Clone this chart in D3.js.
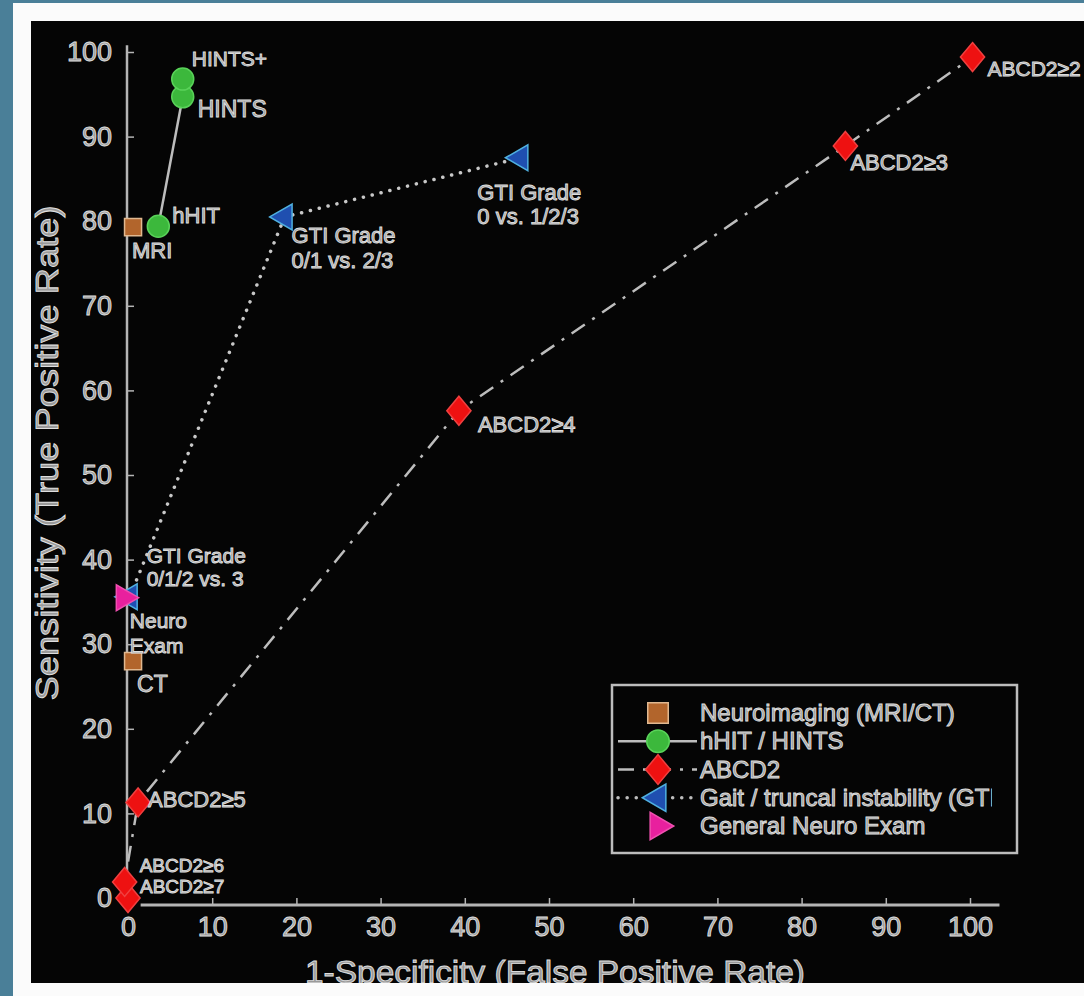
<!DOCTYPE html>
<html>
<head>
<meta charset="utf-8">
<script src="https://cdn.jsdelivr.net/npm/d3@7"></script>
<style>
  html, body { margin: 0; padding: 0; background: #4a7f98; }
  svg { display: block; }
  text { font-family: "Liberation Sans", Arial, sans-serif; }
</style>
</head>
<body>
<svg id="chart" width="1084" height="996"></svg>
<script>
// values (1-specificity %, sensitivity %)
const neuroimaging = [
  { label: "MRI", fpr: 0.6, tpr: 79.3 },
  { label: "CT", fpr: 0.6, tpr: 28.0 }
];
const hints = [
  { label: "hHIT", fpr: 3.6, tpr: 79.4 },
  { label: "HINTS", fpr: 6.5, tpr: 94.7 },
  { label: "HINTS+", fpr: 6.5, tpr: 96.8 }
];
const abcd2 = [
  { label: "ABCD2≥7", fpr: 0.0, tpr: 0.0 },
  { label: "ABCD2≥6", fpr: -0.4, tpr: 1.9 },
  { label: "ABCD2≥5", fpr: 1.2, tpr: 11.3 },
  { label: "ABCD2≥4", fpr: 39.3, tpr: 57.6 },
  { label: "ABCD2≥3", fpr: 85.2, tpr: 88.9 },
  { label: "ABCD2≥2", fpr: 100.3, tpr: 99.4 }
];
const gti = [
  { label: "GTI Grade|0/1/2 vs. 3", fpr: 0.2, tpr: 35.6 },
  { label: "GTI Grade|0/1 vs. 2/3", fpr: 18.6, tpr: 80.5 },
  { label: "GTI Grade|0 vs. 1/2/3", fpr: 46.6, tpr: 87.5 }
];
const neuroExam = [
  { label: "Neuro|Exam", fpr: -0.5, tpr: 35.5 }
];
const xTicks = [0, 10, 20, 30, 40, 50, 60, 70, 80, 90, 100];
const yTicks = [0, 10, 20, 30, 40, 50, 60, 70, 80, 90, 100];
const legendNames = [
  "Neuroimaging (MRI/CT)",
  "hHIT / HINTS",
  "ABCD2",
  "Gait / truncal instability (GTI)",
  "General Neuro Exam"
];

// label placement: offset from marker, line gap, font size
const labelPos = {
  "MRI": [-1, 31, 0, 22], "CT": [4, 31, 0, 23],
  "hHIT": [14, -3, 0, 22], "HINTS": [15, 20, 0, 23], "HINTS+": [9, -13, 0, 21],
  "ABCD2≥7": [12, -5, 0, 19], "ABCD2≥6": [15, -10, 0, 19], "ABCD2≥5": [10, 5, 0, 22],
  "ABCD2≥4": [19, 21, 0, 22], "ABCD2≥3": [5, 24, 0, 22], "ABCD2≥2": [15, 19, 0, 21],
  "GTI Grade|0/1/2 vs. 3": [17, -34, 23, 21], "GTI Grade|0/1 vs. 2/3": [7, 26, 25, 22],
  "GTI Grade|0 vs. 1/2/3": [-43, 42, 24, 22], "Neuro|Exam": [6, 30, 25, 21]
};

const svg = d3.select("#chart");
const W = 1084, H = 996;

// frame: blue edge, white mat, black plot card
svg.append("rect").attr("width", W).attr("height", H).attr("fill", "#4a7f98");
svg.append("rect").attr("x", 13).attr("y", 3).attr("width", W - 13).attr("height", H - 3).attr("fill", "#fbfbfb");
svg.append("clipPath").attr("id", "card")
  .append("rect").attr("x", 31).attr("y", 21).attr("width", W - 31).attr("height", 962);
svg.append("rect").attr("x", 31).attr("y", 21).attr("width", W - 31).attr("height", 962).attr("fill", "#050505");

const g = svg.append("g").attr("clip-path", "url(#card)");

const x = d3.scaleLinear().domain([0, 100]).range([128, 970]);
const y = d3.scaleLinear().domain([0, 100]).range([898, 52]);

const txt = (sel) => sel.attr("fill", "#9a9a9a").attr("stroke", "#dedede").attr("stroke-width", 0.9);

// axes
g.append("line").attr("x1", 127).attr("x2", 127).attr("y1", y(100.8)).attr("y2", y(-0.5))
  .attr("stroke", "#b5b5b5").attr("stroke-width", 2.5);
g.append("line").attr("x1", x(1.5)).attr("x2", x(103.5)).attr("y1", 905).attr("y2", 905)
  .attr("stroke", "#b5b5b5").attr("stroke-width", 3);

const yAxis = g.append("g").attr("transform", "translate(127,0)")
  .call(d3.axisLeft(y).tickValues(yTicks).tickSizeInner(-7).tickSizeOuter(0).tickPadding(15));
const xAxis = g.append("g").attr("transform", "translate(0,905)")
  .call(d3.axisBottom(x).tickValues(xTicks).tickSizeInner(-7).tickSizeOuter(0).tickPadding(12));
[yAxis, xAxis].forEach((a) => {
  a.select(".domain").remove();
  a.selectAll(".tick line").attr("stroke", "#b5b5b5").attr("stroke-width", 1.5);
  a.selectAll(".tick text").attr("font-size", 27).attr("font-family", null).call(txt);
});

// axis titles
g.append("text").attr("transform", "translate(58,453) rotate(-90)")
  .attr("text-anchor", "middle").attr("font-size", 32)
  .attr("textLength", 495).attr("lengthAdjust", "spacingAndGlyphs")
  .text("Sensitivity (True Positive Rate)").call(txt);
g.append("text").attr("x", 555).attr("y", 983)
  .attr("text-anchor", "middle").attr("font-size", 32)
  .attr("textLength", 500).attr("lengthAdjust", "spacingAndGlyphs")
  .text("1-Specificity (False Positive Rate)").call(txt);

// curves
const path = d3.line().x((d) => x(d.fpr)).y((d) => y(d.tpr));
g.append("path").datum(hints.slice(0, 2)).attr("d", path)
  .attr("fill", "none").attr("stroke", "#bdbdbd").attr("stroke-width", 2.5);
g.append("path").datum(abcd2).attr("d", path)
  .attr("fill", "none").attr("stroke", "#bdbdbd").attr("stroke-width", 2.5)
  .attr("stroke-dasharray", "16,9,3,9");
g.append("path").datum(gti).attr("d", path)
  .attr("fill", "none").attr("stroke", "#c8c8c8").attr("stroke-width", 3.5)
  .attr("stroke-linecap", "round").attr("stroke-dasharray", "0.1,9");

// markers (diamond a bit taller than wide, like matlab's)
const tallDiamond = {
  draw(ctx, size) {
    const w = Math.sqrt(size) * 0.62, h = w * 1.2;
    ctx.moveTo(0, -h); ctx.lineTo(w, 0); ctx.lineTo(0, h); ctx.lineTo(-w, 0); ctx.closePath();
  }
};
const styles = {
  square: { type: d3.symbolSquare, size: 290, fill: "#b2652c", stroke: "#e0b890", rot: 0 },
  circle: { type: d3.symbolCircle, size: 380, fill: "#3cb83c", stroke: "#59d259", rot: 0 },
  diamond: { type: tallDiamond, size: 380, fill: "#ee1111", stroke: "#f04040", rot: 0 },
  left: { type: d3.symbolTriangle, size: 290, fill: "#1f4fb0", stroke: "#4fb0e0", rot: -90 },
  right: { type: d3.symbolTriangle, size: 290, fill: "#e8209e", stroke: "#f050b0", rot: 90 }
};
const marks = (data, s) => {
  g.selectAll(null).data(data).join("path")
    .attr("d", d3.symbol().type(s.type).size(s.size))
    .attr("transform", (d) => `translate(${x(d.fpr)},${y(d.tpr)}) rotate(${s.rot})`)
    .attr("fill", s.fill).attr("stroke", s.stroke).attr("stroke-width", 1.5);
};
marks(neuroimaging, styles.square);
marks(gti, styles.left);
marks(neuroExam, styles.right);
marks(abcd2, styles.diamond);
marks(hints, styles.circle);

// point labels
const labels = (data) => {
  const t = g.selectAll(null).data(data).join("text")
    .attr("x", (d) => x(d.fpr) + labelPos[d.label][0])
    .attr("y", (d) => y(d.tpr) + labelPos[d.label][1])
    .attr("font-size", (d) => labelPos[d.label][3]).call(txt);
  t.selectAll("tspan").data((d) => d.label.split("|").map((s) => [s, labelPos[d.label][2]])).join("tspan")
    .attr("x", function () { return d3.select(this.parentNode).attr("x"); })
    .attr("dy", (d, i) => (i ? d[1] : 0))
    .text((d) => d[0]);
};
[neuroimaging, hints, abcd2, gti, neuroExam].forEach(labels);

// legend
const lx = 612, ly = 685, lw = 405, lh = 168;
const leg = g.append("g");
leg.append("clipPath").attr("id", "legclip")
  .append("rect").attr("x", lx).attr("y", ly).attr("width", 380).attr("height", lh);
leg.append("rect").attr("x", lx).attr("y", ly).attr("width", lw).attr("height", lh)
  .attr("fill", "#050505").attr("stroke", "#bdbdbd").attr("stroke-width", 2.5);
const legRows = [
  { s: styles.square, dash: null, size: 420 },
  { s: styles.circle, dash: "none", size: 400 },
  { s: styles.diamond, dash: "16,9,3,9", size: 400 },
  { s: styles.left, dash: "0.1,9", size: 320 },
  { s: styles.right, dash: null, size: 320 }
];
const ry = d3.scalePoint().domain(legendNames).range([713, 826]);
legendNames.forEach((name, i) => {
  const r = legRows[i];
  if (r.dash) {
    leg.append("line").attr("x1", 618).attr("x2", 697).attr("y1", ry(name)).attr("y2", ry(name))
      .attr("stroke", "#bdbdbd").attr("stroke-width", r.dash === "0.1,9" ? 3.5 : 2.5)
      .attr("stroke-linecap", r.dash === "0.1,9" ? "round" : "butt")
      .attr("stroke-dasharray", r.dash === "none" ? null : r.dash);
  }
  leg.append("path").attr("d", d3.symbol().type(r.s.type).size(r.size))
    .attr("transform", `translate(658,${ry(name)}) rotate(${r.s.rot})`)
    .attr("fill", r.s.fill).attr("stroke", r.s.stroke).attr("stroke-width", 1.5);
  leg.append("text").attr("x", 700).attr("y", ry(name) + 8)
    .attr("font-size", 24).attr("clip-path", "url(#legclip)")
    .text(name).call(txt);
});
</script>
</body>
</html>
